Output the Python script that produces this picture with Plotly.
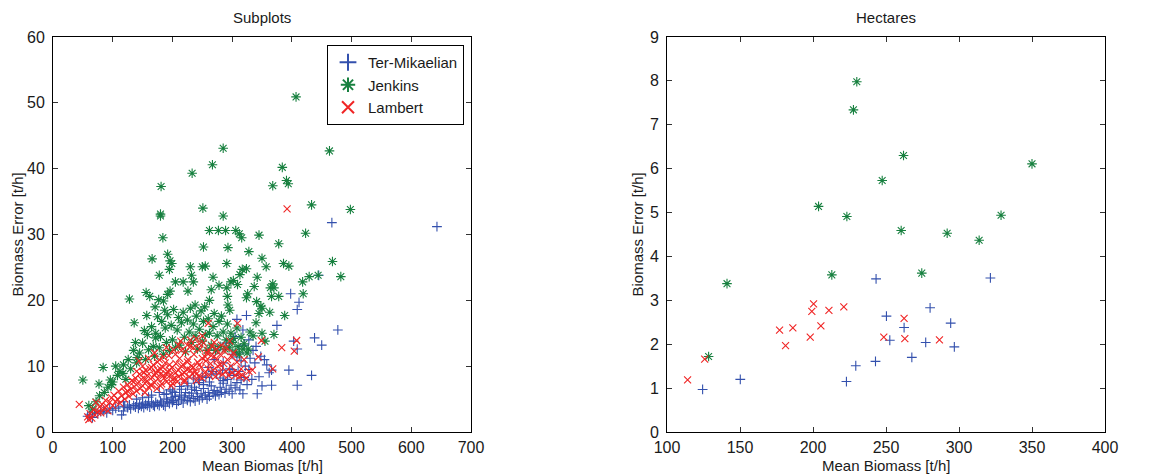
import plotly.graph_objects as go

# ---- Subplots panel: mean biomass vs. biomass error per plot ----
ter_sub_x = [58, 62, 66, 70, 75, 80, 85, 90, 95, 100, 105, 110, 115, 118, 120, 125, 128, 130, 135, 138,
             140, 143, 145, 148, 150, 152, 155, 158, 160, 162, 165, 168, 170, 172, 175, 178, 180, 182, 185, 188,
             190, 192, 195, 198, 200, 202, 205, 207, 210, 212, 215, 218, 220, 222, 225, 228, 230, 232, 235, 238,
             240, 242, 245, 248, 250, 252, 255, 258, 260, 262, 265, 268, 270, 272, 275, 278, 280, 282, 285, 288,
             290, 292, 295, 298, 300, 303, 305, 308, 310, 313, 315, 318, 320, 322, 325, 328, 330, 333, 335, 338,
             340, 342, 345, 348, 350, 354, 358, 362, 366, 366, 375, 395, 398, 403, 409, 409, 409, 412, 433, 438,
             445, 450, 467, 477, 643,
             250, 260, 270, 275, 280, 285, 290, 295, 300, 305, 308, 312, 318, 320, 324, 328, 315, 300, 285, 265,
             245, 235, 225, 215, 200, 190, 308, 237, 252, 268,
             150, 165, 178, 196, 212, 226, 244, 256, 274, 296, 118, 140, 160, 186, 204, 232, 262, 284]
ter_sub_y = [2.4, 2.7, 2.2, 3.0, 2.8, 3.1, 3.3, 2.9, 3.5, 3.3, 3.6, 3.8, 2.6, 3.2, 3.9, 3.7, 4.1, 3.5, 4.0, 3.8,
             4.3, 3.6, 4.1, 3.9, 4.4, 3.7, 4.2, 4.0, 4.6, 3.8, 4.3, 4.1, 3.9, 4.5, 4.2, 4.0, 4.7, 4.4, 4.1, 3.9,
             5.0, 4.6, 4.3, 5.2, 4.5, 4.8, 5.4, 4.2, 4.7, 5.6, 5.0, 4.4, 5.3, 6.0, 4.8, 5.5, 4.6, 5.9, 5.1, 4.7,
             6.3, 5.4, 4.9, 5.8, 5.2, 6.6, 5.6, 5.0, 6.0, 5.4, 7.0, 5.8, 6.3, 5.5, 6.1, 5.7, 6.8, 6.0, 7.4, 5.9,
             6.5, 8.0, 6.2, 7.1, 5.8, 8.6, 6.7, 7.5, 9.2, 6.4, 7.9, 5.8, 8.3, 10.0, 7.2, 9.5, 11.2, 8.0, 12.4, 10.5,
             13.0, 5.8, 8.4, 11.5, 7.0, 11.0, 10.2, 9.0, 9.4, 7.1, 16.2, 9.4, 21.0, 13.8, 12.6, 7.1, 18.6, 19.7, 8.6, 14.3,
             23.8, 13.2, 31.8, 15.5, 31.2,
             8.5, 9.8, 11.0, 12.5, 8.2, 10.5, 13.5, 9.0, 11.8, 14.5, 17.1, 12.0, 15.5, 13.2, 17.7, 14.0, 10.8, 9.5, 7.8, 8.8,
             7.5, 8.2, 7.0, 6.5, 6.2, 5.8, 11.4, 6.8, 7.2, 9.2,
             5.2, 5.6, 6.0, 6.4, 6.9, 7.4, 7.9, 8.3, 8.8, 9.6, 4.6, 5.0, 5.3, 5.7, 6.0, 6.5, 7.6, 9.4]

jen_sub_x = [407, 285, 463, 267, 233, 384, 391, 394, 368, 181, 433, 498, 251, 285, 180, 180, 184, 262, 277, 289,
             306, 312, 316, 423, 345, 378, 252, 293, 328, 166, 192, 196, 199, 195, 291, 350, 357, 386, 395, 468,
             482, 230, 250, 255, 178, 232, 235, 268, 317, 324, 313, 342, 429, 444, 418, 419, 368, 370, 364, 205,
             218, 226, 298, 302, 309, 278, 265, 291, 292, 326, 324, 337, 366, 378, 156, 162, 177, 185, 192, 196,
             128, 262, 341, 348, 350, 363, 388, 171, 187, 238, 254, 293, 296, 157,
             140, 145, 150, 155, 158, 160, 165, 168, 170, 172, 175, 178, 180, 182, 185, 188, 190, 192, 195, 198,
             200, 202, 205, 208, 210, 212, 215, 218, 220, 222, 225, 228, 230, 232, 235, 238, 240, 242, 245, 248,
             250, 252, 255, 258, 260, 262, 265, 268, 270, 272, 275, 278, 280, 282, 285, 288, 290, 292, 295, 298,
             300, 302, 305, 308, 310, 312, 315, 318, 320, 325, 330, 335, 340, 345, 350, 355, 370, 327,
             100, 108, 112, 118, 122, 126, 130, 135, 60, 66, 72, 78, 86, 92, 98, 84, 105, 50, 77, 96,
             117, 136, 153, 138, 172, 141]
jen_sub_y = [50.9, 43.1, 42.7, 40.6, 39.3, 40.2, 38.2, 37.7, 37.4, 37.3, 34.5, 33.8, 34.0, 32.8, 33.1, 32.8, 29.5, 30.6, 30.6, 30.6,
             30.6, 30.1, 29.5, 30.2, 29.9, 28.6, 28.1, 28.0, 27.4, 26.3, 27.0, 26.0, 25.6, 24.7, 25.6, 26.4, 25.1, 25.6, 25.2, 25.9,
             23.6, 25.1, 25.1, 25.2, 23.8, 23.8, 22.8, 23.5, 24.7, 24.8, 23.9, 23.5, 23.6, 23.8, 22.8, 21.0, 22.5, 21.9, 21.9, 22.8,
             22.8, 21.4, 22.8, 23.0, 22.4, 22.3, 21.6, 21.9, 20.6, 21.0, 20.4, 22.1, 20.6, 20.6, 21.2, 20.6, 20.1, 19.9, 20.9, 21.4,
             20.2, 20.0, 19.8, 19.1, 18.8, 18.2, 17.7, 19.0, 18.5, 19.3, 19.0, 19.3, 18.5, 17.7,
             10.5, 12.0, 13.5, 11.0, 14.8, 12.5, 16.0, 13.0, 11.5, 15.0, 17.5, 12.8, 14.5, 16.8, 11.8, 15.8, 13.6, 17.8, 12.4, 16.2,
             14.0, 18.6, 12.8, 15.5, 17.4, 13.2, 16.6, 18.2, 14.4, 12.2, 17.0, 15.2, 18.8, 13.6, 16.4, 14.6, 17.6, 12.6, 15.6, 18.4,
             13.8, 16.8, 14.8, 12.4, 17.2, 15.0, 13.2, 16.0, 18.0, 12.4, 14.6, 16.8, 13.0, 17.6, 15.2, 12.6, 14.0, 16.4, 12.8, 15.0,
             13.6, 14.2, 12.2, 15.8, 13.0, 11.8, 14.4, 12.6, 13.4, 12.0, 15.2, 14.6, 16.6, 18.0, 15.0, 13.8, 14.8, 12.6,
             7.6, 8.6, 9.2, 10.2, 8.0, 11.0, 9.6, 12.4, 4.0, 3.5, 4.6, 5.5, 6.0, 6.8, 7.2, 9.8, 10.0, 7.9, 7.3, 7.9,
             8.9, 16.6, 15.4, 13.6, 14.3, 11.3]

lam_sub_x = [44, 58, 60, 62, 65, 68, 70, 72, 75, 78, 80, 82, 85, 88, 90, 92, 95, 98, 100, 102,
             105, 108, 110, 112, 115, 118, 120, 122, 125, 127, 130, 132, 134, 136, 138, 140, 142, 144, 146, 148,
             150, 152, 154, 156, 158, 160, 162, 164, 166, 168, 170, 172, 174, 176, 178, 180, 182, 184, 186, 188,
             190, 192, 194, 196, 198, 200, 202, 204, 206, 208, 210, 212, 214, 216, 218, 220, 222, 224, 226, 228,
             230, 232, 234, 236, 238, 240, 242, 244, 246, 248, 250, 252, 254, 256, 258, 260, 262, 264, 266, 268,
             270, 272, 274, 276, 278, 280, 282, 284, 286, 288, 290, 292, 294, 296, 298, 300, 302, 305, 308, 309,
             312, 315, 317, 320, 324, 328, 334, 344, 349, 368, 383, 392, 404, 408,
             125, 135, 145, 155, 165, 175, 185, 195, 205, 215, 225, 235, 245, 255, 265, 275, 155, 165, 175, 185,
             195, 205, 215, 225, 235, 245, 170, 180, 190, 200, 210, 220, 230, 240, 250, 260,
             140, 150, 160, 170, 180, 190, 200, 210, 220, 230, 240, 250, 260, 270, 280, 290, 300, 310]
lam_sub_y = [4.2, 2.3, 1.9, 2.8, 2.1, 3.4, 2.6, 4.5, 3.0, 3.8, 2.9, 4.2, 3.5, 4.8, 3.9, 3.2, 4.5, 5.2, 4.0, 5.6,
             4.6, 5.0, 6.2, 4.4, 5.5, 6.8, 5.0, 6.0, 7.2, 5.4, 6.5, 7.8, 5.8, 6.9, 8.2, 6.2, 7.4, 10.8, 6.6, 8.0,
             7.0, 9.0, 6.0, 7.6, 8.6, 6.8, 9.6, 7.2, 8.3, 10.2, 7.5, 9.0, 6.6, 8.1, 11.0, 8.8, 7.3, 9.8, 8.2, 10.5,
             7.6, 9.2, 11.6, 8.6, 7.0, 9.8, 12.5, 8.2, 10.4, 7.6, 9.4, 11.2, 13.8, 8.8, 10.2, 7.9, 12.2, 9.5, 11.0, 8.4,
             13.0, 10.0, 8.8, 11.8, 9.2, 14.2, 10.6, 8.5, 12.6, 9.8, 11.2, 13.5, 9.0, 10.8, 12.0, 16.5, 8.6, 10.4, 13.0, 9.4,
             11.5, 8.4, 12.6, 10.0, 9.0, 11.8, 13.2, 8.8, 10.4, 12.2, 9.2, 11.0, 8.6, 13.8, 10.0, 9.0, 12.0, 8.6, 10.6, 16.5,
             8.4, 9.6, 8.6, 11.0, 8.2, 9.2, 9.4, 11.4, 13.9, 9.6, 12.8, 33.9, 12.3, 13.9,
             6.2, 7.6, 8.8, 9.4, 9.8, 9.4, 8.6, 10.2, 9.0, 10.0, 10.6, 9.8, 10.2, 11.4, 11.6, 11.0, 8.0, 7.0, 10.6, 11.4,
             9.4, 11.8, 12.4, 13.2, 12.8, 13.4, 8.6, 9.6, 8.8, 8.0, 8.4, 9.0, 9.4, 8.8, 8.2, 9.6,
             9.2, 10.0, 11.2, 12.0, 7.0, 12.8, 7.4, 13.2, 7.6, 14.0, 7.8, 14.6, 12.4, 13.6, 10.2, 12.8, 11.4, 9.0]

# ---- Hectares panel: mean biomass vs. biomass error per hectare ----
ter_ha_x = [124.4, 150.2, 222.9, 229.3, 242.8, 243.2, 250.3, 252.6, 262.4, 267.7, 277.2, 280.2, 294.3, 296.8, 321.5]
ter_ha_y = [0.97, 1.20, 1.15, 1.51, 1.61, 3.49, 2.64, 2.09, 2.38, 1.70, 2.04, 2.83, 2.48, 1.94, 3.51]

jen_ha_x = [128.5, 141.1, 203.8, 212.9, 223.2, 227.7, 230.0, 247.4, 260.4, 262.0, 274.5, 291.9, 313.8, 328.8, 350.0]
jen_ha_y = [1.72, 3.38, 5.14, 3.58, 4.91, 7.34, 7.98, 5.73, 4.59, 6.30, 3.62, 4.53, 4.37, 4.94, 6.11]

lam_ha_x = [114.1, 125.8, 177.1, 181.2, 186.2, 198.1, 199.2, 200.4, 205.4, 210.9, 221.1, 248.5, 262.4, 262.9, 286.6]
lam_ha_y = [1.19, 1.66, 2.32, 1.97, 2.37, 2.16, 2.75, 2.92, 2.42, 2.77, 2.85, 2.16, 2.59, 2.13, 2.10]

series_names = ["Ter-Mikaelian", "Jenkins", "Lambert"]
series_colors = ["#3350ad", "#17803f", "#f02525"]
series_symbols = ["cross-thin", "asterisk", "x-thin"]
series_sizes = [7, 8, 7]

panel_data = [
    [(ter_sub_x, ter_sub_y), (jen_sub_x, jen_sub_y), (lam_sub_x, lam_sub_y)],
    [(ter_ha_x, ter_ha_y), (jen_ha_x, jen_ha_y), (lam_ha_x, lam_ha_y)],
]

fig = go.Figure()
for p, series in enumerate(panel_data):
    xa = "x" if p == 0 else "x2"
    ya = "y" if p == 0 else "y2"
    for i, (xs, ys) in enumerate(series):
        fig.add_trace(go.Scatter(
            x=xs, y=ys, mode="markers", name=series_names[i],
            xaxis=xa, yaxis=ya, showlegend=(p == 0),
            marker=dict(symbol=series_symbols[i], size=series_sizes[i], color=series_colors[i],
                        line=dict(color=series_colors[i], width=1.1)),
        ))

W, H = 1154, 474
FAMILY = "Liberation Sans, Arial, Helvetica, sans-serif"
font = dict(family=FAMILY, size=16, color="#1a1a1a")
title_font = dict(family=FAMILY, size=15, color="#1a1a1a")

# axes boxes in pixels
L1, R1 = 53, 471
L2, R2 = 667, 1105
TOP, BOT = 37, 432


def axis_style(**kw):
    base = dict(showline=True, linecolor="black", linewidth=1, mirror="ticks",
                ticks="inside", ticklen=5, tickcolor="#333", tickwidth=1,
                showgrid=False, zeroline=False, tickfont=font, automargin=False)
    base.update(kw)
    return base


y_dom = [1 - BOT / H, 1 - TOP / H]


def pap_x(px):
    return px / W


def pap_y(py):
    return 1 - py / H


fig.update_layout(
    width=W, height=H, margin=dict(l=0, r=0, t=0, b=0),
    paper_bgcolor="white", plot_bgcolor="white", font=font,
    xaxis=axis_style(domain=[L1 / W, R1 / W], range=[0, 700], dtick=100, anchor="y",
                     ticklabelstandoff=1),
    yaxis=axis_style(domain=y_dom, range=[0, 60], dtick=10, anchor="x", ticklabelstandoff=4),
    xaxis2=axis_style(domain=[L2 / W, R2 / W], range=[100, 400], dtick=50, anchor="y2",
                      ticklabelstandoff=1),
    yaxis2=axis_style(domain=y_dom, range=[0, 9], dtick=1, anchor="x2", ticklabelstandoff=4),
    legend=dict(x=pap_x(464), y=pap_y(45), xanchor="right", yanchor="top",
                bordercolor="black", borderwidth=1, bgcolor="white",
                font=dict(family=FAMILY, size=15, color="#1a1a1a"),
                tracegroupgap=0, itemsizing="constant"),
    annotations=[
        dict(text="Subplots", x=pap_x((L1 + R1) / 2), y=pap_y(18), font=title_font),
        dict(text="Hectares", x=pap_x((L2 + R2) / 2), y=pap_y(18), font=title_font),
        dict(text="Mean Biomas [t/h]", x=pap_x((L1 + R1) / 2), y=pap_y(465), font=title_font),
        dict(text="Mean Biomass [t/h]", x=pap_x((L2 + R2) / 2), y=pap_y(465), font=title_font),
        dict(text="Biomass Error [t/h]", x=pap_x(17), y=pap_y((TOP + BOT) / 2),
             textangle=-90, font=title_font),
        dict(text="Biomass Error [t/h]", x=pap_x(637), y=pap_y((TOP + BOT) / 2),
             textangle=-90, font=title_font),
    ],
)
fig.update_annotations(xref="paper", yref="paper", showarrow=False,
                       xanchor="center", yanchor="middle")

fig.write_html("out.html")
